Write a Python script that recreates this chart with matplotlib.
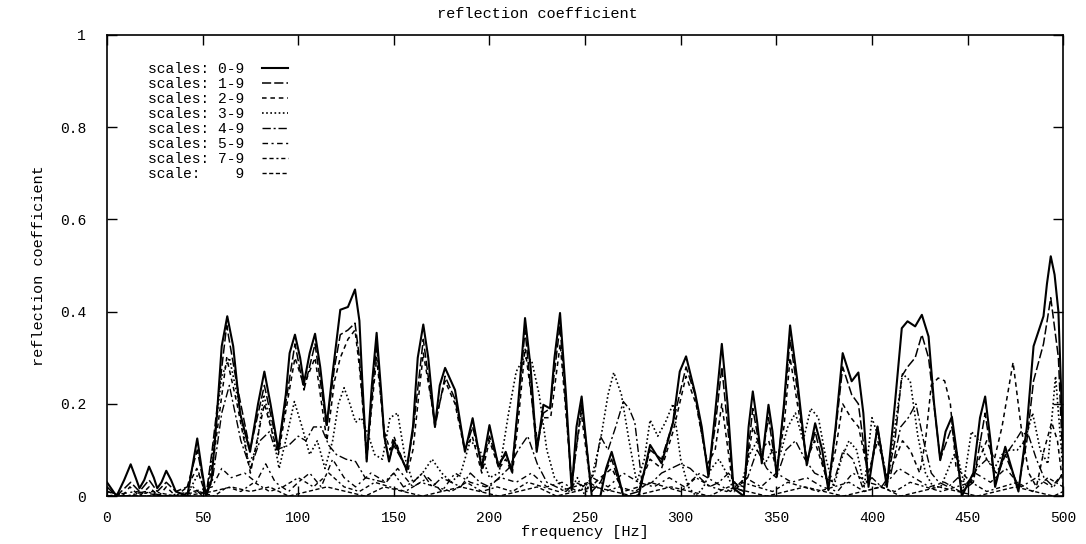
import matplotlib
matplotlib.use("Agg")
import matplotlib.pyplot as plt

plt.rcParams['font.family'] = ['Liberation Mono', 'DejaVu Sans Mono']

# ---------------- data ----------------
labels = ["scales: 0-9", "scales: 1-9", "scales: 2-9", "scales: 3-9",
          "scales: 4-9", "scales: 5-9", "scales: 7-9", "scale:    9"]

xticks = [0, 50, 100, 150, 200, 250, 300, 350, 400, 450, 500]
yticks = [0, 0.2, 0.4, 0.6, 0.8, 1.0]
ytick_labels = ["0", "0.2", "0.4", "0.6", "0.8", "1"]

# scales 0-9 (solid)
f_a = [0, 5, 9, 12.4, 15, 17, 19.5, 22, 24.5, 26.3, 28.5, 31, 33.5, 36, 42, 44.5, 47.2, 49.5, 51.8,
       54.7, 57.3, 60, 62.9, 66, 69.6, 74.8, 79, 82.3, 85.5, 89.6, 93.5, 95.5, 98.3, 101, 103, 106,
       108.8, 111.5, 114.9, 117.5, 122, 126, 129.7, 132, 133.5, 135.8, 138.5, 141, 143.5, 145, 147.5,
       150, 156.7, 160, 162.5, 165.4, 168, 171.5, 174, 176.8, 182, 187.2, 191.2, 196, 200, 204.7,
       208.5, 211.7, 215, 218.6, 221.5, 224.7, 228.2, 231.7, 234, 236.9, 240, 243, 245.5, 248.2,
       250.5, 253.5, 258, 261, 263.9, 267, 270, 278, 284, 290, 296, 299.5, 302.8, 307.5, 311, 314.5,
       318, 321.5, 324.5, 327.6, 333, 335.5, 337.7, 340, 342.4, 345.9, 348, 350.2, 354, 357.2, 361,
       365.9, 370.3, 374, 377.2, 381, 384.7, 389.4, 392.9, 395.5, 398.2, 402.9, 407.8, 412, 415.6,
       418.6, 422.6, 426.1, 429.6, 432.5, 435.7, 438.5, 441.8, 444.5, 447, 453, 456.5, 459.2, 462,
       464.4, 469.7, 476.6, 481, 484.5, 489.7, 491.5, 493.5, 495.5, 497.5, 500]
v_a = [0.03, 0.0, 0.035, 0.069, 0.04, 0.017, 0.035, 0.064, 0.04, 0.017, 0.03, 0.055, 0.035, 0.01,
       0.0, 0.06, 0.125, 0.06, 0.0, 0.035, 0.165, 0.325, 0.39, 0.325, 0.18, 0.096, 0.2, 0.27, 0.2,
       0.10, 0.22, 0.31, 0.35, 0.3, 0.245, 0.31, 0.352, 0.28, 0.154, 0.25, 0.404, 0.41, 0.448, 0.38,
       0.25, 0.075, 0.24, 0.354, 0.22, 0.13, 0.075, 0.12, 0.057, 0.15, 0.3, 0.372, 0.3, 0.15, 0.24,
       0.278, 0.23, 0.096, 0.169, 0.06, 0.154, 0.064, 0.096, 0.053, 0.2, 0.386, 0.28, 0.096, 0.198,
       0.19, 0.3, 0.397, 0.22, 0.013, 0.15, 0.216, 0.12, 0.0, 0.0, 0.06, 0.096, 0.05, 0.0, 0.0, 0.111,
       0.071, 0.16, 0.27, 0.303, 0.224, 0.15, 0.042, 0.18, 0.33, 0.2, 0.017, 0.0, 0.15, 0.227, 0.16,
       0.071, 0.198, 0.14, 0.042, 0.2, 0.37, 0.25, 0.067, 0.158, 0.1, 0.013, 0.15, 0.31, 0.249,
       0.268, 0.18, 0.02, 0.151, 0.02, 0.2, 0.364, 0.379, 0.368, 0.393, 0.346, 0.2, 0.078, 0.14,
       0.172, 0.09, 0.0, 0.05, 0.17, 0.216, 0.12, 0.02, 0.107, 0.01, 0.15, 0.325, 0.39, 0.46, 0.52,
       0.48, 0.4, 0.1]

# scales 1-9 (long dash)
f_b = [0, 5, 12.4, 17, 22, 26.3, 31, 36, 42, 47.2, 51.8, 55, 62.6, 68, 74.8, 82.3, 89.6, 98.3, 103,
       108.8, 114.9, 119, 122, 126, 129.7, 132, 135.8, 141, 145, 147.5, 150, 156.7, 160, 165.4, 171.5,
       176.8, 182, 187.2, 191.2, 196, 200, 204.7, 208.5, 211.7, 215, 218.6, 224.7, 228.2, 231.7, 236.9,
       243, 248.2, 253.5, 258, 263.9, 270, 278, 284, 290, 296, 302.8, 307.5, 314.5, 318, 321.5, 327.6,
       333, 337.7, 342.4, 345.9, 350.2, 354, 357.2, 361, 365.9, 370.3, 377.2, 381, 384.7, 389.4, 392.9,
       398.2, 402.9, 407.8, 412, 415.6, 418.6, 422.6, 426.1, 429.6, 435.7, 441.8, 447, 453, 459.2, 464.4,
       469.7, 476.6, 481, 484.5, 489.7, 493.5, 497.5, 500]
v_b = [0.02, 0.0, 0.03, 0.01, 0.035, 0.01, 0.03, 0.01, 0.02, 0.1, 0.0, 0.1, 0.37, 0.24, 0.1, 0.24,
       0.1, 0.33, 0.23, 0.33, 0.15, 0.28, 0.35, 0.36, 0.375, 0.3, 0.08, 0.33, 0.13, 0.08, 0.11, 0.06,
       0.14, 0.34, 0.15, 0.26, 0.21, 0.1, 0.15, 0.07, 0.13, 0.07, 0.09, 0.06, 0.19, 0.36, 0.1, 0.18,
       0.19, 0.37, 0.02, 0.2, 0.01, 0.03, 0.08, 0.0, 0.01, 0.1, 0.08, 0.16, 0.28, 0.22, 0.05, 0.15,
       0.28, 0.02, 0.01, 0.19, 0.08, 0.17, 0.05, 0.19, 0.34, 0.23, 0.07, 0.14, 0.02, 0.14, 0.28, 0.22,
       0.2, 0.03, 0.15, 0.03, 0.12, 0.26, 0.28, 0.3, 0.35, 0.3, 0.08, 0.15, 0.01, 0.03, 0.18, 0.03,
       0.09, 0.02, 0.12, 0.25, 0.33, 0.43, 0.3, 0.05]

# scales 2-9 (short dash)
f_c = [0, 8, 12, 17, 22, 27, 31, 36, 42, 47, 52, 56, 62.6, 68, 75, 82.3, 89.6, 98.3, 103, 108.8, 115,
       119, 122, 126, 129.7, 132, 136, 141, 145, 148, 150, 157, 160, 165.4, 171.5, 176.8, 182, 187,
       191, 196, 200, 205, 208.5, 212, 215, 218.6, 225, 228, 232, 237, 243, 248, 253, 258, 264, 270,
       278, 284, 290, 296, 302.8, 308, 314, 318, 321.5, 327, 333, 337.7, 342, 346, 350, 354, 357.2,
       361, 366, 370, 377, 381, 384.7, 389, 393, 398, 403, 408, 412, 416, 420, 425, 428, 431, 434.6,
       438, 441, 444, 447, 452, 456, 460, 464, 468, 473.8, 478, 482, 486, 490, 494, 497, 500]
v_c = [0.01, 0.0, 0.02, 0.0, 0.02, 0.0, 0.02, 0.0, 0.02, 0.06, 0.0, 0.09, 0.30, 0.2, 0.05, 0.2,
       0.09, 0.3, 0.24, 0.3, 0.12, 0.25, 0.3, 0.34, 0.36, 0.28, 0.09, 0.3, 0.14, 0.1, 0.13, 0.05,
       0.1, 0.31, 0.16, 0.25, 0.2, 0.1, 0.13, 0.05, 0.12, 0.06, 0.08, 0.05, 0.16, 0.32, 0.12, 0.17,
       0.17, 0.33, 0.03, 0.18, 0.02, 0.04, 0.06, 0.01, 0.02, 0.08, 0.06, 0.14, 0.26, 0.2, 0.07, 0.1,
       0.2, 0.03, 0.02, 0.15, 0.1, 0.12, 0.06, 0.15, 0.3, 0.2, 0.08, 0.12, 0.03, 0.1, 0.2, 0.17,
       0.15, 0.05, 0.12, 0.04, 0.08, 0.12, 0.1, 0.05, 0.12, 0.24, 0.256, 0.25, 0.2, 0.06, 0.05,
       0.03, 0.08, 0.12, 0.08, 0.15, 0.29, 0.15, 0.05, 0.02, 0.1, 0.16, 0.12, 0.02]

# scales 3-9 (dotted)
f_d = [0, 20, 40, 44, 48, 52, 56, 60, 64, 69, 74, 78, 82, 86, 90, 94, 98, 102, 106, 110, 114, 118,
       121, 124, 127, 130, 133, 136, 140, 144, 148, 152, 156, 160, 165, 170, 175, 180, 185, 190, 195,
       200, 205, 210, 214, 218, 222, 226, 230, 234, 238, 242, 246, 250, 254, 258, 262, 265, 269, 273,
       277, 281, 284, 288, 292, 296, 300, 304, 308, 312, 316, 320, 324, 328, 332, 336, 340, 344, 348,
       352, 356, 360, 364, 368, 372, 376, 380, 384, 388, 392, 396, 400, 404, 408, 412, 416, 420, 424,
       428, 432, 436, 440, 444, 448, 452, 456, 460, 464, 468, 472, 476, 480, 484, 488, 492, 496, 500]
v_d = [0.0, 0.0, 0.0, 0.02, 0.05, 0.0, 0.12, 0.26, 0.3, 0.2, 0.07, 0.1, 0.22, 0.15, 0.06, 0.13,
       0.205, 0.15, 0.09, 0.12, 0.06, 0.12, 0.2, 0.235, 0.2, 0.16, 0.17, 0.14, 0.09, 0.08, 0.17, 0.18,
       0.08, 0.03, 0.05, 0.08, 0.05, 0.03, 0.05, 0.12, 0.1, 0.04, 0.05, 0.18, 0.27, 0.3, 0.295, 0.22,
       0.1, 0.04, 0.02, 0.01, 0.04, 0.0, 0.05, 0.12, 0.22, 0.268, 0.22, 0.12, 0.03, 0.08, 0.165, 0.13,
       0.16, 0.2, 0.08, 0.02, 0.0, 0.02, 0.06, 0.08, 0.05, 0.01, 0.03, 0.09, 0.12, 0.07, 0.1, 0.09,
       0.15, 0.18, 0.12, 0.19, 0.17, 0.08, 0.02, 0.08, 0.12, 0.1, 0.02, 0.17, 0.12, 0.03, 0.15, 0.265,
       0.25, 0.13, 0.05, 0.02, 0.02, 0.06, 0.1, 0.03, 0.14, 0.12, 0.08, 0.06, 0.09, 0.1, 0.1, 0.12,
       0.18, 0.1, 0.07, 0.26, 0.05]

# scales 4-9 (dash-dot)
f_e = [0, 10, 20, 30, 40, 45, 50, 55, 60, 64, 70, 75, 80, 85, 88, 95, 100, 104, 108, 112, 116, 120,
       125, 130, 135, 140, 145, 150, 155, 160, 165, 170, 175, 180, 185, 190, 195, 200, 205, 210, 215,
       220, 225, 230, 235, 240, 245, 250, 255, 258, 262, 266, 270, 273, 276, 280, 285, 290, 295, 300,
       305, 310, 315, 320, 325, 330, 335, 340, 345, 350, 355, 360, 365, 370, 375, 380, 385, 390, 395,
       400, 405, 410, 415, 419, 423, 427, 431, 435, 440, 445, 450, 455, 460, 465, 470, 475, 478, 482,
       486, 490, 495, 500]
v_e = [0.01, 0.0, 0.01, 0.0, 0.0, 0.02, 0.0, 0.03, 0.18, 0.24, 0.12, 0.06, 0.12, 0.14, 0.1, 0.11,
       0.13, 0.12, 0.15, 0.15, 0.11, 0.09, 0.08, 0.075, 0.04, 0.035, 0.03, 0.05, 0.02, 0.03, 0.05,
       0.02, 0.04, 0.03, 0.02, 0.05, 0.03, 0.02, 0.04, 0.06, 0.1, 0.13, 0.07, 0.03, 0.02, 0.01, 0.03,
       0.02, 0.05, 0.13, 0.1, 0.15, 0.205, 0.19, 0.16, 0.02, 0.03, 0.05, 0.06, 0.07, 0.06, 0.04, 0.02,
       0.03, 0.05, 0.02, 0.04, 0.1, 0.06, 0.04, 0.1, 0.12, 0.08, 0.05, 0.04, 0.03, 0.1, 0.08, 0.02,
       0.04, 0.02, 0.05, 0.15, 0.17, 0.2, 0.12, 0.05, 0.03, 0.02, 0.04, 0.02, 0.06, 0.08, 0.05, 0.09,
       0.12, 0.14, 0.13, 0.08, 0.04, 0.02, 0.05]

# scales 5-9
f_f = [0, 15, 30, 45, 55, 60, 65, 72, 78, 83, 88, 95, 100, 106, 112, 118, 124, 130, 138, 146, 152,
       160, 168, 175, 182, 190, 198, 206, 214, 222, 230, 238, 246, 254, 262, 270, 278, 286, 294, 302,
       310, 318, 326, 334, 342, 350, 358, 366, 374, 382, 390, 398, 406, 414, 422, 430, 438, 446, 454,
       462, 470, 478, 486, 494, 500]
v_f = [0.0, 0.01, 0.0, 0.01, 0.02, 0.06, 0.04, 0.05, 0.03, 0.07, 0.03, 0.01, 0.03, 0.05, 0.02,
       0.08, 0.04, 0.02, 0.05, 0.03, 0.06, 0.02, 0.04, 0.01, 0.05, 0.03, 0.02, 0.04, 0.03, 0.05,
       0.02, 0.03, 0.01, 0.04, 0.02, 0.05, 0.03, 0.02, 0.04, 0.02, 0.05, 0.03, 0.01, 0.04, 0.02,
       0.05, 0.03, 0.04, 0.02, 0.01, 0.05, 0.03, 0.02, 0.06, 0.04, 0.02, 0.03, 0.01, 0.05, 0.03,
       0.06, 0.02, 0.04, 0.02, 0.05]

# scales 7-9
f_g = [0, 12, 24, 36, 48, 56, 63, 70, 77, 85, 92, 100, 108, 116, 124, 132, 140, 148, 156, 164,
       172, 180, 188, 196, 204, 212, 220, 228, 236, 244, 252, 260, 268, 276, 284, 292, 300, 308, 316,
       324, 332, 340, 348, 356, 364, 372, 380, 388, 396, 404, 412, 420, 428, 436, 444, 452, 460, 468,
       476, 484, 492, 500]
v_g = [0.0, 0.0, 0.01, 0.0, 0.01, 0.0, 0.02, 0.01, 0.03, 0.01, 0.02, 0.04, 0.02, 0.05, 0.02,
       0.01, 0.03, 0.02, 0.01, 0.03, 0.02, 0.01, 0.03, 0.01, 0.02, 0.01, 0.03, 0.02, 0.01, 0.02,
       0.03, 0.01, 0.02, 0.01, 0.03, 0.02, 0.01, 0.04, 0.02, 0.01, 0.03, 0.02, 0.01, 0.03, 0.02,
       0.01, 0.02, 0.03, 0.01, 0.02, 0.01, 0.03, 0.02, 0.01, 0.02, 0.03, 0.01, 0.02, 0.03, 0.01,
       0.04, 0.02]

# scale 9
f_h = [0, 20, 40, 55, 65, 75, 85, 95, 105, 115, 125, 135, 145, 155, 165, 175, 185, 195, 205, 215,
       225, 235, 245, 255, 265, 275, 285, 295, 305, 315, 325, 335, 345, 355, 365, 375, 385, 395, 405,
       415, 425, 435, 445, 455, 465, 475, 485, 495, 500]
v_h = [0.0, 0.0, 0.0, 0.01, 0.02, 0.01, 0.02, 0.0, 0.01, 0.02, 0.01, 0.0, 0.02, 0.01, 0.0, 0.01,
       0.02, 0.01, 0.0, 0.01, 0.02, 0.0, 0.01, 0.02, 0.01, 0.0, 0.01, 0.02, 0.01, 0.0, 0.02, 0.01,
       0.0, 0.01, 0.02, 0.01, 0.0, 0.01, 0.02, 0.0, 0.01, 0.02, 0.01, 0.0, 0.01, 0.02, 0.01, 0.0,
       0.01]

series = [(f_a, v_a), (f_b, v_b), (f_c, v_c), (f_d, v_d),
          (f_e, v_e), (f_f, v_f), (f_g, v_g), (f_h, v_h)]

# ---------------- styles ----------------
styles = [
    dict(linestyle='-', lw=1.5),
    dict(linestyle=(0, (6, 2)), lw=1.1),
    dict(linestyle=(0, (3, 2.5)), lw=1.1),
    dict(linestyle=(0, (1, 1.5)), lw=1.2),
    dict(linestyle=(0, (6, 2, 1.5, 2)), lw=1.0),
    dict(linestyle=(0, (4, 2.5, 1.5, 2.5)), lw=1.0),
    dict(linestyle=(0, (3, 2, 3, 2, 1.5, 2)), lw=1.0),
    dict(linestyle=(0, (3, 1.8)), lw=1.0),
]

fig = plt.figure(figsize=(10.86, 5.44), dpi=100)
ax = fig.add_axes([0.0985, 0.088, 0.8805, 0.848])

for (fx, vy), lab, st in zip(series, labels, styles):
    ax.plot(fx, vy, color='black', label=lab, **st)

ax.set_xlim(0, 500)
ax.set_ylim(0, 1)
ax.set_xticks(xticks)
ax.set_xticklabels([str(t) for t in xticks], fontsize=10.5)
ax.set_yticks(yticks)
ax.set_yticklabels(ytick_labels, fontsize=10.5)
ax.tick_params(direction='in', top=True, right=True, length=7, width=1.0)
ax.tick_params(axis='y', pad=15)
ax.tick_params(axis='x', pad=11)
for s in ax.spines.values():
    s.set_linewidth(1.2)

fig.text(0.495, 0.974, "reflection coefficient", fontsize=11, ha='center', va='center')
ax.set_xlabel("frequency [Hz]", fontsize=11, labelpad=0)
ax.set_ylabel("reflection coefficient", fontsize=11, labelpad=10)

leg = ax.legend(loc='upper left', bbox_to_anchor=(0.043, 0.94), frameon=False,
                markerfirst=False, fontsize=10.5, handlelength=1.8, handletextpad=1.2,
                labelspacing=0.06, borderaxespad=0, borderpad=0)

fig.savefig("out.png", dpi=100)
